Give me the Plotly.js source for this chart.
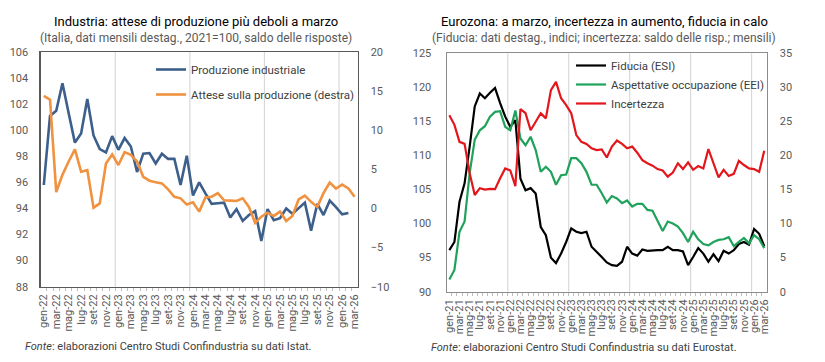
<!DOCTYPE html>
<html>
<head>
<meta charset="utf-8">
<script src="https://cdn.plot.ly/plotly-3.0.1.min.js"></script>
<style>
html,body{margin:0;padding:0;background:#fff;}
#chart{width:825px;height:362px;}
</style>
</head>
<body>
<div id="chart"></div>
<script>
// ---- data ----
const monthAbbr = ['gen','feb','mar','apr','mag','giu','lug','ago','set','ott','nov','dic'];

// Left chart: gen-22 .. mar-26
const leftYears = [22, 23, 24, 25, 26];
const leftLastMonth = 3;
// Produzione industriale (2021=100)
const produzione = [95.8, 101.1, 101.5, 103.6, 101.3, 99.05, 99.75, 102.4, 99.6, 98.55, 98.3, 99.55,
  98.5, 99.4, 98.75, 96.8, 98.2, 98.25, 97.45, 98.2, 97.8, 97.8, 95.8, 98.05,
  95.0, 96.0, 95.15, 94.35, 94.4, 94.45, 93.3, 93.95, 93.05, 93.5, 93.8, 91.5,
  93.95, 93.1, 93.25, 94.0, 93.6, 94.0, 94.45, 92.3, 94.35, 93.5, 94.6, 94.1,
  93.55, 93.65, null];
// Attese sulla produzione (saldo, asse destro)
const attese = [14.4, 13.9, 2.1, 4.3, 6.0, 7.55, 4.7, 4.9, 0.1, 0.65, 5.75, 6.9,
  5.55, 7.2, 6.85, 6.0, 4.05, 3.55, 3.35, 3.2, 2.45, 1.5, 1.3, 0.5,
  0.8, -0.4, 1.4, 1.5, 1.95, 1.05, 1.0, 0.95, 1.3, 0.2, -1.85, -1.05,
  -0.55, -0.95, -0.4, -1.6, -0.95, 1.15, 1.65, 0.85, 0.2, 1.95, 3.3, 2.55,
  3.05, 2.55, 1.5];

// Right chart: gen-21 .. mar-26
const rightYears = [21, 22, 23, 24, 25, 26];
const rightLastMonth = 3;
const fiducia = [96.1, 97.3, 103.2, 105.9, 111.3, 117.2, 119.1, 118.4, 119.2, 119.9, 117.7, 115.7,
  114.2, 115.2, 106.6, 104.9, 105.2, 104.4, 99.5, 98.3, 95.0, 94.2, 95.6, 97.3,
  99.3, 98.8, 98.6, 98.8, 96.6, 95.9, 95.1, 94.3, 93.9, 93.8, 94.4, 96.6,
  95.6, 95.3, 96.2, 96.0, 96.1, 96.1, 96.1, 96.6, 96.1, 96.1, 95.9, 93.9,
  95.1, 96.4, 95.6, 94.4, 95.5, 94.5, 96.0, 95.6, 96.1, 97.0, 97.3, 96.9,
  99.2, 98.5, 96.7];
const occupazione = [91.8, 93.2, 98.8, 100.3, 107.4, 112.3, 113.7, 114.3, 115.7, 116.4, 116.5, 114.2,
  113.7, 116.6, 112.5, 111.5, 112.75, 110.8, 107.6, 108.35, 107.6, 105.7, 107.1, 107.2,
  109.6, 109.6, 108.85, 107.6, 105.7, 105.7, 104.45, 103.1, 104.05, 103.7, 103.0, 103.4,
  102.5, 102.9, 102.9, 102.0, 101.9, 100.5, 98.9, 100.3, 100.0, 99.55, 98.6, 97.3,
  98.8, 97.7, 97.0, 96.8, 97.3, 97.6, 97.7, 98.0, 96.7, 97.3, 97.9, 97.1,
  98.3, 97.7, 96.4];
const incertezza = [25.9, 24.5, 22.0, 21.7, 17.4, 14.2, 15.2, 15.0, 15.1, 15.05, 16.65, 18.1,
  17.8, 15.5, 26.8, 26.2, 23.7, 25.0, 26.2, 25.45, 29.6, 30.8, 28.4, 27.4,
  26.2, 23.0, 22.0, 21.7, 21.05, 20.8, 20.9, 19.7, 21.3, 22.2, 21.7, 21.05,
  21.3, 20.4, 19.3, 18.85, 18.5, 18.0, 17.8, 16.9, 17.5, 18.85, 18.0, 19.0,
  17.9, 18.45, 18.1, 20.95, 18.85, 16.8, 17.9, 17.0, 17.3, 19.2, 18.6, 18.1,
  18.0, 17.6, 20.7];

// ---- helpers ----
function buildMonths(years, lastMonth) {
  const out = [];
  years.forEach((y, yi) => {
    const n = (yi === years.length - 1) ? lastMonth : 12;
    for (let m = 0; m < n; m++) out.push(monthAbbr[m] + '-' + y);
  });
  return out;
}
const leftCats = buildMonths(leftYears, leftLastMonth);
const rightCats = buildMonths(rightYears, rightLastMonth);
const leftX = leftCats.map((_, i) => i);
const rightX = rightCats.map((_, i) => i);

function tickSpec(cats) {
  const vals = [], text = [];
  cats.forEach((c, i) => { if (i % 2 === 0) { vals.push(i); text.push(c); } });
  return {vals, text};
}
function boundaries(cats) { return cats.slice(1).map((_, i) => i + 0.5); }
function yearBounds(cats) {
  const b = [];
  cats.forEach((c, i) => { if (i > 0 && c.startsWith('gen-')) b.push(i - 0.5); });
  return b;
}

const FONT = 'Roboto, "Open Sans", Arial, sans-serif';
const lt = tickSpec(leftCats), rt = tickSpec(rightCats);

const traces = [
  {x: leftX, y: produzione, type: 'scatter', mode: 'lines', name: 'Produzione industriale',
   line: {color: '#3d5f8b', width: 2.6}, xaxis: 'x', yaxis: 'y', legend: 'legend', legendgroup: 'a'},
  {x: leftX, y: attese, type: 'scatter', mode: 'lines', name: 'Attese sulla produzione (destra)',
   line: {color: '#f0923f', width: 2.6}, xaxis: 'x', yaxis: 'y2', legend: 'legend', legendgroup: 'b'},
  {x: rightX, y: fiducia, type: 'scatter', mode: 'lines', name: 'Fiducia (ESI)',
   line: {color: '#000000', width: 2.2}, xaxis: 'x2', yaxis: 'y3', legend: 'legend2'},
  {x: rightX, y: occupazione, type: 'scatter', mode: 'lines', name: 'Aspettative occupazione (EEI)',
   line: {color: '#1fa25a', width: 2.2}, xaxis: 'x2', yaxis: 'y3', legend: 'legend2'},
  {x: rightX, y: incertezza, type: 'scatter', mode: 'lines', name: 'Incertezza',
   line: {color: '#e3161c', width: 2.2}, xaxis: 'x2', yaxis: 'y4', legend: 'legend2'}
];

const tickFont = {family: FONT, size: 11, color: '#595959'};
function xAxis(domain, cats, ts, anchor, lineColor) {
  return {
    domain: domain, anchor: anchor, type: 'linear', range: [-0.5, cats.length - 0.5],
    tickmode: 'array', tickvals: ts.vals, ticktext: ts.text, tickangle: -90,
    ticks: '', showgrid: false, zeroline: false,
    showline: true, mirror: true, linecolor: lineColor, linewidth: 1.3,
    tickfont: tickFont, ticklabelstandoff: 2, automargin: false,
    minor: {tickmode: 'array', tickvals: boundaries(cats), ticks: 'outside', ticklen: 3,
            tickcolor: '#bfbfbf', showgrid: false}
  };
}
function yAxis(domain, range, dtick, anchor, side, overlay, standoff, lineColor) {
  const a = {
    domain: domain, anchor: anchor, side: side, range: range, dtick: dtick, tick0: range[0],
    ticks: '', showgrid: false, zeroline: false, tickfont: tickFont,
    ticklabelstandoff: standoff, automargin: false, fixedrange: true
  };
  if (overlay) { a.overlaying = overlay; a.showline = false; }
  else { a.showline = true; a.mirror = true; a.linecolor = lineColor; a.linewidth = 1.3; }
  return a;
}

const leftDom = [40.7 / 825, 357.7 / 825];
const rightDom = [446.8 / 825, 766.8 / 825];
const leftYDom = [1 - 286.7 / 362, 1 - 52 / 362];
const rightYDom = [1 - 291.7 / 362, 1 - 53.3 / 362];

const shapes = [];
yearBounds(leftCats).forEach(v => shapes.push({type: 'line', xref: 'x', yref: 'y domain', x0: v, x1: v, y0: 0, y1: 1,
  line: {color: '#d9d9d9', width: 1.2}, layer: 'below'}));
yearBounds(rightCats).forEach(v => shapes.push({type: 'line', xref: 'x2', yref: 'y3 domain', x0: v, x1: v, y0: 0, y1: 1,
  line: {color: '#d9d9d9', width: 1.2}, layer: 'below'}));

function py(px) { return 1 - px / 362; }
function pxX(px) { return px / 825; }

const annotations = [
  {text: 'Industria: attese di produzione più deboli a marzo', x: pxX(196), y: py(21), xref: 'paper', yref: 'paper',
   xanchor: 'center', yanchor: 'middle', showarrow: false, font: {family: FONT, size: 13, color: '#000000'}},
  {text: '(Italia, dati mensili destag., 2021=100, saldo delle risposte)', x: pxX(196), y: py(38), xref: 'paper', yref: 'paper',
   xanchor: 'center', yanchor: 'middle', showarrow: false, font: {family: FONT, size: 12, color: '#595959'}},
  {text: 'Eurozona: a marzo, incertezza in aumento, fiducia in calo', x: pxX(604), y: py(22), xref: 'paper', yref: 'paper',
   xanchor: 'center', yanchor: 'middle', showarrow: false, font: {family: FONT, size: 13, color: '#000000'}},
  {text: '(Fiducia: dati destag., indici; incertezza: saldo delle risp.; mensili)', x: pxX(604), y: py(38), xref: 'paper', yref: 'paper',
   xanchor: 'center', yanchor: 'middle', showarrow: false, font: {family: FONT, size: 12, color: '#595959'}},
  {text: '<i>Fonte</i>: elaborazioni Centro Studi Confindustria su dati Istat.', x: pxX(23), y: py(346), xref: 'paper', yref: 'paper',
   xanchor: 'left', yanchor: 'middle', showarrow: false, font: {family: FONT, size: 11, color: '#404040'}},
  {text: '<i>Fonte</i>: elaborazioni Centro Studi Confindustria su dati Eurostat.', x: pxX(429), y: py(347), xref: 'paper', yref: 'paper',
   xanchor: 'left', yanchor: 'middle', showarrow: false, font: {family: FONT, size: 11, color: '#404040'}}
];

const legendFont = {family: FONT, size: 11.5, color: '#404040'};
const layout = {
  width: 825, height: 362,
  margin: {l: 0, r: 0, t: 0, b: 0},
  paper_bgcolor: '#ffffff', plot_bgcolor: '#ffffff',
  font: {family: FONT},
  xaxis: xAxis(leftDom, leftCats, lt, 'y', '#595959'),
  yaxis: yAxis(leftYDom, [88, 106], 2, 'x', 'left', null, 9, '#595959'),
  yaxis2: yAxis(leftYDom, [-10, 20], 5, 'x', 'right', 'y', 12, '#595959'),
  xaxis2: xAxis(rightDom, rightCats, rt, 'y3', '#8c8c8c'),
  yaxis3: yAxis(rightYDom, [90, 125], 5, 'x2', 'left', null, 12, '#8c8c8c'),
  yaxis4: yAxis(rightYDom, [0, 35], 5, 'x2', 'right', 'y3', 12, '#8c8c8c'),
  showlegend: true,
  legend: {x: pxX(151), y: py(55), xanchor: 'left', yanchor: 'top', bgcolor: 'rgba(255,255,255,0)',
           font: legendFont, traceorder: 'grouped', tracegroupgap: 6},
  legend2: {x: pxX(571), y: py(51), xanchor: 'left', yanchor: 'top', bgcolor: 'rgba(255,255,255,0)',
            font: legendFont, traceorder: 'normal'},
  shapes: shapes,
  annotations: annotations
};

Plotly.newPlot('chart', traces, layout, {staticPlot: true, displayModeBar: false});
</script>
</body>
</html>
